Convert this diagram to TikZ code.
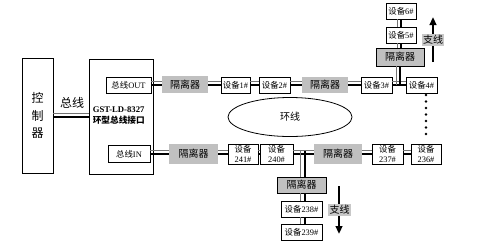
\documentclass[tikz,border=0pt]{standalone}
\usepackage{fontspec}
\setmainfont{Liberation Serif}
\newfontfamily\cjk{Noto Sans CJK SC}
\usetikzlibrary{shapes.geometric,arrows.meta}
\newcommand{\zh}[1]{{\cjk #1}}
\definecolor{isogray}{RGB}{192,192,192}
\definecolor{taggray}{RGB}{200,200,200}
\newcommand{\hpair}[3][0pt]{%
  \draw[thinl] ([yshift=#1+2.6pt]#2.east) -- ([yshift=#1+2.6pt]#2.east -| #3.west);
  \draw[thickl] ([yshift=#1]#2.east) -- ([yshift=#1]#2.east -| #3.west);}
\newcommand{\vpair}[3][0pt]{%
  \draw[thinl] ([xshift=#1-3pt]#2.south) -- ([xshift=#1-3pt]#2.south |- #3.north);
  \draw[thickl] ([xshift=#1]#2.south) -- ([xshift=#1]#2.south |- #3.north);}
\begin{document}
\begin{tikzpicture}[x=0.75pt,y=-0.75pt,
  box/.style={draw, line width=0.6pt, fill=white, inner sep=0pt, align=center,
    font=\fontsize{6.3}{7.4}\selectfont},
  sz/.style 2 args={minimum width=#1*0.75pt, minimum height=#2*0.75pt},
  iso/.style={fill=isogray, inner sep=0pt, font=\fontsize{7.5}{9}\selectfont\cjk},
  isob/.style={iso, draw, line width=0.6pt},
  thinl/.style={line width=0.6pt, draw=black!55},
  thickl/.style={line width=1.5pt, draw=black},
  arr/.style={line width=1.6pt, -{Triangle[length=6pt,width=5pt]}},
  tag/.style={fill=taggray, inner sep=1pt, font=\fontsize{7.5}{9}\selectfont\cjk}]
\fill[white] (0,0) rectangle (485,251);
\useasboundingbox (0,0) rectangle (485,251);

% controller and interface
\node[box, sz={31}{115}, font=\fontsize{9}{13}\selectfont\cjk] (ctrl) at (37.5,115.5) {控\\制\\器};
\node[box, sz={64}{115}] (iface) at (121,116.5) {};
\node[anchor=west, align=left, inner sep=0pt, font=\fontsize{6.5}{8.2}\selectfont\bfseries] (ifacet) at (92.5,115.5) {GST-LD-8327\\\zh{环型总线接口}};
\node[font=\fontsize{9}{10}\selectfont\cjk, inner sep=0pt] (buslbl) at (72,103) {总线};
\node[box, sz={45}{16}] (out) at (128.5,85) {\zh{总线}OUT};
\node[box, sz={42}{17}] (in) at (129,154) {\zh{总线}IN};

% top row
\node[iso, sz={46}{17}] (iso1) at (185,84.5) {隔离器};
\node[box, sz={29}{16}] (d1) at (235.5,85) {\zh{设备}1\#};
\node[box, sz={31}{16}] (d2) at (274.5,85) {\zh{设备}2\#};
\node[iso, sz={46}{16}] (iso2) at (325,85) {隔离器};
\node[box, sz={31}{16}] (d3) at (376.5,85) {\zh{设备}3\#};
\node[box, sz={31}{16}] (d4) at (421.5,85) {\zh{设备}4\#};

% top branch
\node[isob, sz={48}{18}] (isoB1) at (400,57) {隔离器};
\node[box, sz={30}{16}] (d5) at (401,35) {\zh{设备}5\#};
\node[box, sz={30}{16}] (d6) at (401,11) {\zh{设备}6\#};

% bottom row
\node[iso, sz={49}{20}] (isoL) at (193.5,154) {隔离器};
\node[box, sz={30}{20}] (d241) at (243,154) {\zh{设备}\\241\#};
\node[box, sz={33}{20}] (d240) at (276.5,154) {\zh{设备}\\240\#};
\node[iso, sz={48}{20}] (isoM) at (338,154) {隔离器};
\node[box, sz={31}{20}] (d237) at (387.5,154) {\zh{设备}\\237\#};
\node[box, sz={30}{20}] (d236) at (426,154) {\zh{设备}\\236\#};

% bottom branch
\node[isob, sz={49}{16}] (isoB2) at (301.5,185) {隔离器};
\node[box, sz={41}{16}] (d238) at (301.5,209) {\zh{设备}238\#};
\node[box, sz={41}{16}] (d239) at (301.5,232) {\zh{设备}239\#};

% ring
\node[draw, ellipse, line width=0.6pt, minimum width=124*0.75pt, minimum height=39*0.75pt,
  inner sep=0pt, font=\fontsize{7.5}{9}\selectfont\cjk] (ring) at (290,117) {环线};

% connectors
\hpair[-1.1pt]{ctrl}{iface}
\hpair{out}{iso1}
\hpair{iso1}{d1}
\hpair{d1}{d2}
\hpair{d2}{iso2}
\hpair{iso2}{d3}
\hpair{d3}{d4}
\hpair{in}{isoL}
\hpair{isoL}{d241}
\hpair{d241}{d240}
\hpair{d240}{isoM}
\hpair{isoM}{d237}
\hpair{d237}{d236}

\vpair{d6}{d5}
\vpair{d5}{isoB1}
\draw[thinl] ([xshift=-3pt]isoB1.south) -- ([xshift=-3pt]isoB1.south |- d4.west);
\draw[thickl] (isoB1.south) -- (isoB1.south |- d4.west);

\draw[thinl] ([xshift=-0.75pt]isoB2.north) -- ([xshift=-0.75pt,yshift=2.6pt]isoB2.north |- d240.east);
\draw[thickl] ([xshift=2.25pt]isoB2.north) -- ([xshift=2.25pt,yshift=2.6pt]isoB2.north |- d240.east);
\vpair[2.25pt]{isoB2}{d238}
\vpair[2.25pt]{d238}{d239}

% dots
\foreach \yy in {95,101.5,...,134} \fill (426,\yy) circle (1.1pt);

% branch arrows
\coordinate (upS) at (433,62);
\coordinate (upE) at (433,17);
\draw[arr] (upS) -- (upE);
\node[tag] (tagU) at (433,40) {支线};
\coordinate (dnS) at (339,186);
\coordinate (dnE) at (339,234);
\draw[arr] (dnS) -- (dnE);
\node[tag] (tagD) at (339.5,210) {支线};
\end{tikzpicture}
\end{document}
